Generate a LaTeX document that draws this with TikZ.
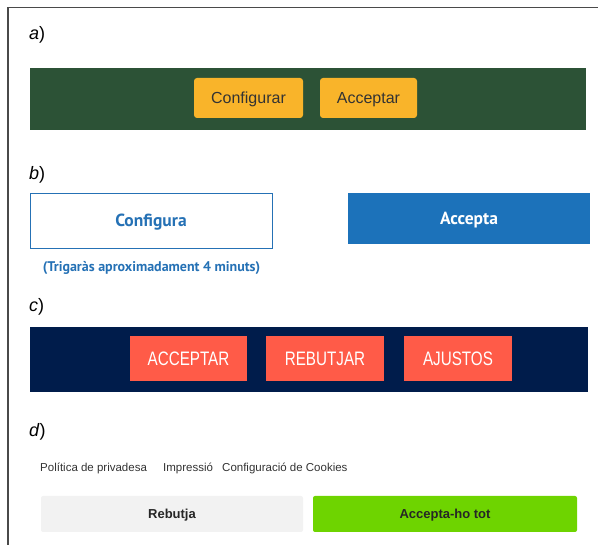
\documentclass[tikz,border=0pt]{standalone}
\usepackage{fontspec}
\setmainfont{Liberation Sans}
\newfontfamily\ptsans{PT Sans}
\newfontfamily\narrowfont[FakeStretch=0.78]{Liberation Sans}
\usetikzlibrary{positioning}
\definecolor{framegray}{HTML}{4A4A4A}
\definecolor{greenbar}{HTML}{2C5236}
\definecolor{yellowbtn}{HTML}{F9B42A}
\definecolor{bluebtn}{HTML}{1C72BA}
\definecolor{bluetext}{HTML}{2571B5}
\definecolor{navybar}{HTML}{001C4B}
\definecolor{tomatobtn}{HTML}{FF5B48}
\definecolor{greybtn}{HTML}{F2F2F2}
\definecolor{limebtn}{HTML}{6ED400}
\tikzset{
  partlabel/.style={anchor=base west, inner sep=0pt, font=\fontsize{18}{20}\selectfont},
  bar/.style={inner sep=0pt, draw=none},
  btn/.style={inner sep=0pt, text height=0.72*#1pt, text depth=0pt},
  btn/.default=10,
}

\begin{document}
\begin{tikzpicture}[x=1pt,y=-1pt]
\useasboundingbox (0,0) rectangle (598,545);
% frame
\draw[framegray, line width=1.2pt] (8,545) -- (8,7.5) -- (598,7.5);

% a)
\node[partlabel] (la) at (29,40) {\textit{a})};
\node[bar, fill=greenbar, minimum width=556pt, minimum height=62pt] (bara) at (308,99) {};
\node[btn=16, fill=yellowbtn, rounded corners=3pt, minimum width=109pt, minimum height=40pt,
  text=black!80, font=\fontsize{16}{18}\selectfont] (confa) at (248.5,98) {Configurar};
\node[btn=16, fill=yellowbtn, rounded corners=3pt, minimum width=97pt, minimum height=40pt,
  text=black!80, font=\fontsize{16}{18}\selectfont] (acca) at (368.5,98) {Acceptar};

% b)
\node[partlabel] (lb) at (29,180) {\textit{b})};
\node[btn=17.5, draw=bluetext, line width=0.8pt, fill=white, minimum width=242pt, minimum height=55pt,
  text=bluetext, font=\ptsans\bfseries\fontsize{17.5}{20}\selectfont] (confb) at (151,220.5) {Configura};
\node[btn=17.5, fill=bluebtn, minimum width=242pt, minimum height=51pt,
  text=white, font=\ptsans\bfseries\fontsize{17.5}{20}\selectfont] (accb) at (469,218.5) {Accepta};
\node[btn=14, text=bluetext, font=\ptsans\bfseries\fontsize{14}{16}\selectfont] (hintb) at (151.5,266) {(Trigaràs aproximadament 4 minuts)};

% c)
\node[partlabel] (lc) at (29,312) {\textit{c})};
\node[bar, fill=navybar, minimum width=558pt, minimum height=65pt] (barc) at (309,359.5) {};
\node[btn=19.5, fill=tomatobtn, minimum width=117pt, minimum height=45pt, text=white,
  font=\narrowfont\fontsize{19.5}{21}\selectfont] (accc) at (188.5,358.5) {ACCEPTAR};
\node[btn=19.5, fill=tomatobtn, minimum width=118pt, minimum height=45pt, text=white,
  font=\narrowfont\fontsize{19.5}{21}\selectfont] (rebc) at (325,358.5) {REBUTJAR};
\node[btn=19.5, fill=tomatobtn, minimum width=108pt, minimum height=45pt, text=white,
  font=\narrowfont\fontsize{19.5}{21}\selectfont] (ajuc) at (458,358.5) {AJUSTOS};

% d)
\node[partlabel] (ld) at (29,437) {\textit{d})};
\node[btn=11.5, anchor=west, text=black!80, font=\fontsize{11.5}{13}\selectfont] (polid) at (40,467) {Política de privadesa};
\node[btn=11.5, anchor=west, text=black!80, font=\fontsize{11.5}{13}\selectfont] (impd) at (163,467) {Impressió};
\node[btn=11.5, anchor=west, text=black!80, font=\fontsize{11.5}{13}\selectfont] (cookd) at (222,467) {Configuració de Cookies};
\node[btn=13, fill=greybtn, rounded corners=2pt, minimum width=262pt, minimum height=36pt,
  text=black!85, font=\bfseries\fontsize{13}{15}\selectfont] (rebd) at (172,514) {Rebutja};
\node[btn=13, fill=limebtn, rounded corners=2pt, minimum width=264pt, minimum height=36pt,
  text=black!85, font=\bfseries\fontsize{13}{15}\selectfont] (accd) at (445,514) {Accepta-ho tot};
\end{tikzpicture}
\end{document}
